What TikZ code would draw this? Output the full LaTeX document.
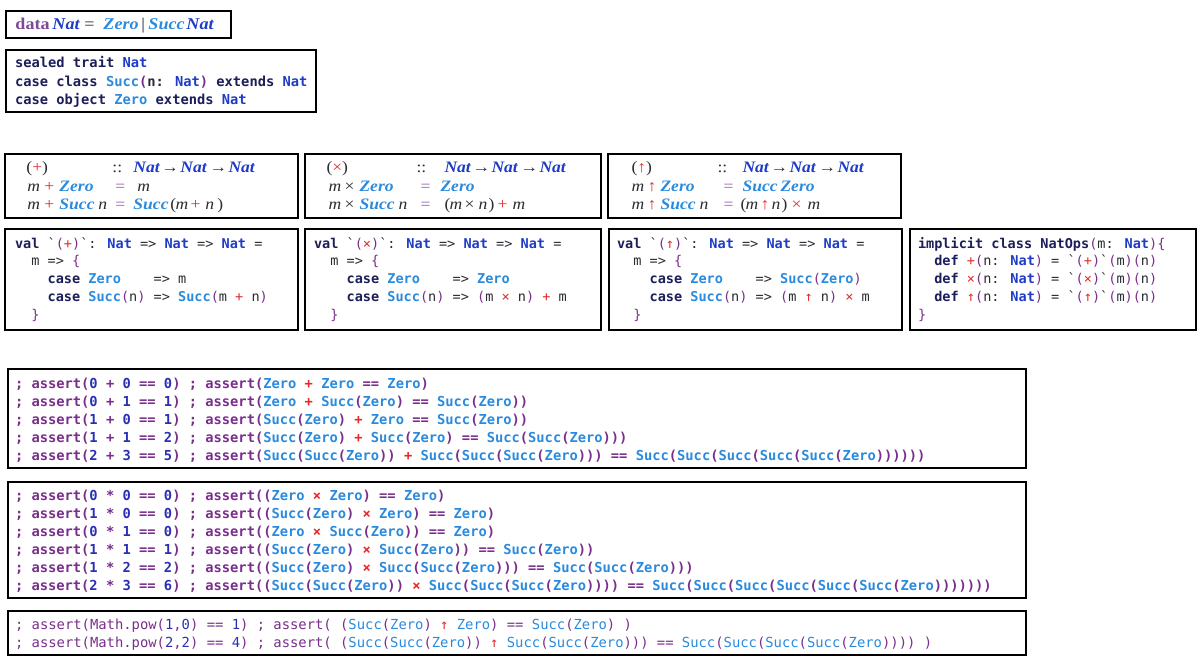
\documentclass[tikz,border=0pt]{standalone}
\usepackage{fontspec}
\setmainfont{Liberation Serif}
\newfontfamily\codefont{DejaVu Sans Mono}
\newfontfamily\hsfont[FakeStretch=1.1]{Liberation Serif}
\definecolor{kw}{HTML}{1C1E5A}
\definecolor{tp}{HTML}{1E3CC8}
\definecolor{ct}{HTML}{2A8BDE}
\definecolor{pu}{HTML}{7A2E8C}
\definecolor{rd}{HTML}{E32B2B}
\definecolor{nm}{HTML}{2A2FB5}
\definecolor{eqp}{HTML}{9B56B8}
\definecolor{tx}{HTML}{2B2B33}
\definecolor{dp}{HTML}{7D4A95}
\newcommand\idw{\bfseries}
\newcommand\kw[1]{\textcolor{kw}{\bfseries #1}}
\newcommand\tn{\textcolor{tp}{\idw Nat}}
\newcommand\zro{\textcolor{ct}{\idw Zero}}
\newcommand\lp{\textcolor{pu}{(}}
\newcommand\rp{\textcolor{pu}{)}}
\newcommand\suc[1]{\textcolor{ct}{\idw Succ}\lp#1\rp}
\newcommand\op[1]{\textcolor{rd}{#1}}
\newcommand\nm[1]{\textcolor{nm}{#1}}
\newcommand\pu[1]{\textcolor{pu}{#1}}
\newcommand\bq{\char96\relax}
\newcommand\ind[1]{\hspace*{#1\dimexpr0.602em\relax}}
\newcommand\at[2]{\rlap{\hspace*{#1bp}#2}}
\newcommand\hv[1]{\textit{#1}}
\newcommand\hT{\textcolor{tp}{\textbf{\textit{Nat}}}}
\newcommand\hC[1]{\textcolor{ct}{\textbf{\textit{#1}}}}
\newcommand\heq{\textcolor{eqp}{=}}
\tikzset{
  frame/.style={draw=black, line width=2.2bp, rectangle, inner sep=0pt, outer sep=0pt, anchor=north west},
  txt/.style={anchor=base west, inner sep=0pt, outer sep=0pt},
  hsk/.style={txt, font=\hsfont\fontsize{16}{18}\selectfont, text=tx},
  dat/.style={txt, font=\hsfont\fontsize{16.5}{20}\selectfont, text=tx},
  codeb/.style={txt, font=\codefont\bfseries\fontsize{13.8}{18}\selectfont, text=tx},
  scl/.style={txt, font=\codefont\fontsize{13.6}{18}\selectfont, text=tx},
  asr/.style={txt, font=\codefont\bfseries\fontsize{13.8}{18}\selectfont, text=pu},
  asrl/.style={txt, font={\codefont\fontsize{13.9}{18}\selectfont\def\idw{\mdseries}}, text=pu}
}
\begin{document}
\begin{tikzpicture}[x=1bp,y=-1bp]
\fill[white] (0,0) rectangle (1200,671);
\useasboundingbox (0,0) rectangle (1200,671);
% frames
\node[frame, minimum width=225bp, minimum height=27bp] (fdata) at (6,11) {};
\node[frame, minimum width=310bp, minimum height=62bp] (fsealed) at (6,50) {};
\node[frame, minimum width=293bp, minimum height=64bp] (fplus) at (5,154) {};
\node[frame, minimum width=296bp, minimum height=64bp] (ftimes) at (305,154) {};
\node[frame, minimum width=293bp, minimum height=64bp] (fpow) at (608,154) {};
\node[frame, minimum width=293bp, minimum height=101bp] (vplus) at (5,229) {};
\node[frame, minimum width=296bp, minimum height=101bp] (vtimes) at (305,229) {};
\node[frame, minimum width=293bp, minimum height=101bp] (vpow) at (609,229) {};
\node[frame, minimum width=286bp, minimum height=101bp] (vops) at (910,229) {};
\node[frame, minimum width=1018bp, minimum height=99bp] (as1) at (8,369) {};
\node[frame, minimum width=1018bp, minimum height=116bp] (as2) at (8,482) {};
\node[frame, minimum width=1018bp, minimum height=44bp] (as3) at (8,611) {};
% data Nat
\node[dat] (tdata) at (15,30) {\at{0}{\textcolor{dp}{\textbf{data}}}\at{37}{\hT}\at{69}{=}\at{88}{\hC{Zero}}\at{126}{|}\at{133}{\hC{Succ}}\at{171}{\hT}};
% sealed trait
\node[codeb] (s1) at (15,68) {\kw{sealed trait} \tn};
\node[codeb] (s2) at (15,86.5) {\kw{case class} \suc{n: \tn} \kw{extends} \tn};
\node[codeb] (s3) at (15,105) {\kw{case object} \zro{} \kw{extends} \tn};
% Haskell plus
\node[hsk] (hp1) at (26,173) {\at{0}{(\op{+})}\at{86}{::}\at{107}{\hT}\at{135}{→}\at{154}{\hT}\at{183}{→}\at{202}{\hT}};
\node[hsk] (hp2) at (26,191.5) {\at{1}{\hv{m}}\at{18}{\op{+}}\at{33}{\hC{Zero}}\at{89}{\heq}\at{111}{\hv{m}}};
\node[hsk] (hp3) at (26,210) {\at{1}{\hv{m}}\at{18}{\op{+}}\at{33}{\hC{Succ}}\at{72}{\hv{n}}\at{89}{\heq}\at{107}{\hC{Succ}}\at{144}{(}\at{149}{\hv{m}}\at{164}{\op{+}}\at{179}{\hv{n}}\at{191}{)}};
% Haskell times
\node[hsk] (ht1) at (326,173) {\at{0}{(\op{×})}\at{90}{::}\at{118}{\hT}\at{146}{→}\at{165}{\hT}\at{194}{→}\at{213}{\hT}};
\node[hsk] (ht2) at (326,191.5) {\at{2}{\hv{m}}\at{18}{×}\at{33}{\hC{Zero}}\at{94}{\heq}\at{114}{\hC{Zero}}};
\node[hsk] (ht3) at (326,210) {\at{2}{\hv{m}}\at{18}{×}\at{33}{\hC{Succ}}\at{72}{\hv{n}}\at{94}{\heq}\at{118}{(}\at{123}{\hv{m}}\at{138}{×}\at{152}{\hv{n}}\at{162}{)}\at{171}{\op{+}}\at{186}{\hv{m}}};
% Haskell pow
\node[hsk] (hw1) at (631,173) {\at{0}{(\op{↑})}\at{86}{::}\at{111}{\hT}\at{139}{→}\at{158}{\hT}\at{187}{→}\at{206}{\hT}};
\node[hsk] (hw2) at (631,191.5) {\at{0}{\hv{m}}\at{16}{\op{↑}}\at{29}{\hC{Zero}}\at{92}{\heq}\at{111}{\hC{Succ}}\at{149}{\hC{Zero}}};
\node[hsk] (hw3) at (631,210) {\at{0}{\hv{m}}\at{16}{\op{↑}}\at{29}{\hC{Succ}}\at{68}{\hv{n}}\at{92}{\heq}\at{109}{(}\at{114}{\hv{m}}\at{129}{\op{↑}}\at{140}{\hv{n}}\at{150}{)}\at{160}{\op{×}}\at{176}{\hv{m}}};
% Scala plus
\node[scl] (vp1) at (15,248) {\kw{val} \bq\lp\op{+}\rp\bq: \tn{} => \tn{} => \tn{} =};
\node[scl] (vp2) at (15,265.8) {\ind{2}m => \pu{\{}};
\node[scl] (vp3) at (15,283.6) {\ind{4}\kw{case} \zro\ \ \ \ => m};
\node[scl] (vp4) at (15,301.4) {\ind{4}\kw{case} \suc{n} => \suc{m \op{+} n}};
\node[scl] (vp5) at (15,319.2) {\ind{2}\pu{\}}};
% Scala times
\node[scl] (vt1) at (314,248) {\kw{val} \bq\lp\op{×}\rp\bq: \tn{} => \tn{} => \tn{} =};
\node[scl] (vt2) at (314,265.8) {\ind{2}m => \pu{\{}};
\node[scl] (vt3) at (314,283.6) {\ind{4}\kw{case} \zro\ \ \ \ => \zro};
\node[scl] (vt4) at (314,301.4) {\ind{4}\kw{case} \suc{n} => \lp m \op{×} n\rp{} \op{+} m};
\node[scl] (vt5) at (314,319.2) {\ind{2}\pu{\}}};
% Scala pow
\node[scl] (vw1) at (617,248) {\kw{val} \bq\lp\op{↑}\rp\bq: \tn{} => \tn{} => \tn{} =};
\node[scl] (vw2) at (617,265.8) {\ind{2}m => \pu{\{}};
\node[scl] (vw3) at (617,283.6) {\ind{4}\kw{case} \zro\ \ \ \ => \suc{\zro}};
\node[scl] (vw4) at (617,301.4) {\ind{4}\kw{case} \suc{n} => \lp m \op{↑} n\rp{} \op{×} m};
\node[scl] (vw5) at (617,319.2) {\ind{2}\pu{\}}};
% Scala ops
\node[scl] (vo1) at (918,248) {\kw{implicit class} \kw{NatOps}\lp m: \tn\rp\pu{\{}};
\node[scl] (vo2) at (918,265.8) {\ind{2}\kw{def} \op{+}\lp n: \tn\rp{} = \bq\lp\op{+}\rp\bq\lp m\rp\lp n\rp};
\node[scl] (vo3) at (918,283.6) {\ind{2}\kw{def} \op{×}\lp n: \tn\rp{} = \bq\lp\op{×}\rp\bq\lp m\rp\lp n\rp};
\node[scl] (vo4) at (918,301.4) {\ind{2}\kw{def} \op{↑}\lp n: \tn\rp{} = \bq\lp\op{↑}\rp\bq\lp m\rp\lp n\rp};
\node[scl] (vo5) at (918,319.2) {\pu{\}}};
% asserts plus
\node[asr] (a11) at (15,388) {; assert(\nm{0} + \nm{0} == \nm{0}) ; assert(\zro{} \op{+} \zro{} == \zro)};
\node[asr] (a12) at (15,406) {; assert(\nm{0} + \nm{1} == \nm{1}) ; assert(\zro{} \op{+} \suc{\zro} == \suc{\zro})};
\node[asr] (a13) at (15,424) {; assert(\nm{1} + \nm{0} == \nm{1}) ; assert(\suc{\zro} \op{+} \zro{} == \suc{\zro})};
\node[asr] (a14) at (15,442) {; assert(\nm{1} + \nm{1} == \nm{2}) ; assert(\suc{\zro} \op{+} \suc{\zro} == \suc{\suc{\zro}})};
\node[asr] (a15) at (15,460) {; assert(\nm{2} + \nm{3} == \nm{5}) ; assert(\suc{\suc{\zro}} \op{+} \suc{\suc{\suc{\zro}}} == \suc{\suc{\suc{\suc{\suc{\zro}}}}})};
% asserts times
\node[asr] (a21) at (15,500) {; assert(\nm{0} * \nm{0} == \nm{0}) ; assert((\zro{} \op{×} \zro) == \zro)};
\node[asr] (a22) at (15,518) {; assert(\nm{1} * \nm{0} == \nm{0}) ; assert((\suc{\zro} \op{×} \zro) == \zro)};
\node[asr] (a23) at (15,536) {; assert(\nm{0} * \nm{1} == \nm{0}) ; assert((\zro{} \op{×} \suc{\zro}) == \zro)};
\node[asr] (a24) at (15,554) {; assert(\nm{1} * \nm{1} == \nm{1}) ; assert((\suc{\zro} \op{×} \suc{\zro}) == \suc{\zro})};
\node[asr] (a25) at (15,572) {; assert(\nm{1} * \nm{2} == \nm{2}) ; assert((\suc{\zro} \op{×} \suc{\suc{\zro}}) == \suc{\suc{\zro}})};
\node[asr] (a26) at (15,590) {; assert(\nm{2} * \nm{3} == \nm{6}) ; assert((\suc{\suc{\zro}} \op{×} \suc{\suc{\suc{\zro}}}) == \suc{\suc{\suc{\suc{\suc{\suc{\zro}}}}}})};
% asserts pow
\node[asrl] (a31) at (15,629) {; assert(Math.pow(\nm{1},\nm{0}) == \nm{1}) ; assert( (\suc{\zro} \op{↑} \zro) == \suc{\zro} )};
\node[asrl] (a32) at (15,647) {; assert(Math.pow(\nm{2},\nm{2}) == \nm{4}) ; assert( (\suc{\suc{\zro}} \op{↑} \suc{\suc{\zro}}) == \suc{\suc{\suc{\suc{\zro}}}} )};
\end{tikzpicture}
\end{document}
